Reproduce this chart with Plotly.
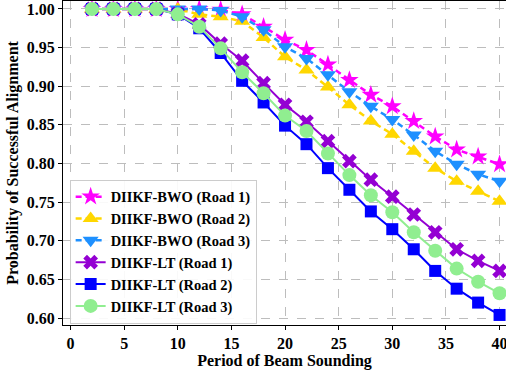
import plotly.graph_objects as go

periods = [2, 4, 6, 8, 10, 12, 14, 16, 18, 20, 22, 24, 26, 28, 30, 32, 34, 36, 38, 40]

bwo_road1 = [1, 1, 1, 1, 1, 1, 0.999, 0.993, 0.977, 0.960, 0.947, 0.928, 0.908, 0.889, 0.874, 0.855, 0.835, 0.818, 0.809, 0.799]
bwo_road2 = [1, 1, 1, 1, 1, 0.993, 0.990, 0.984, 0.963, 0.938, 0.921, 0.899, 0.876, 0.855, 0.838, 0.816, 0.794, 0.777, 0.764, 0.751]
bwo_road3 = [1, 1, 1, 1, 1, 1, 0.998, 0.990, 0.973, 0.951, 0.936, 0.915, 0.893, 0.874, 0.857, 0.837, 0.816, 0.799, 0.786, 0.777]
lt_road1 = [1, 1, 1, 1, 0.994, 0.980, 0.955, 0.933, 0.904, 0.876, 0.854, 0.829, 0.803, 0.779, 0.757, 0.734, 0.711, 0.689, 0.674, 0.661]
lt_road2 = [1, 1, 1, 1, 0.993, 0.975, 0.943, 0.907, 0.879, 0.849, 0.825, 0.794, 0.766, 0.738, 0.715, 0.689, 0.661, 0.638, 0.620, 0.604]
lt_road3 = [1, 1, 1, 1, 0.993, 0.977, 0.949, 0.918, 0.891, 0.862, 0.842, 0.813, 0.785, 0.759, 0.737, 0.711, 0.687, 0.664, 0.647, 0.632]

x_ticks = [0, 5, 10, 15, 20, 25, 30, 35, 40]
y_ticks = [0.60, 0.65, 0.70, 0.75, 0.80, 0.85, 0.90, 0.95, 1.00]

series = [
    ("DIIKF-BWO (Road 1)", bwo_road1, "#FF00FF", "star", "dash", 14),
    ("DIIKF-BWO (Road 2)", bwo_road2, "#FFD700", "triangle-up", "dash", 14),
    ("DIIKF-BWO (Road 3)", bwo_road3, "#1E90FF", "triangle-down", "dash", 14),
    ("DIIKF-LT (Road 1)", lt_road1, "#9400D3", "x", "solid", 13),
    ("DIIKF-LT (Road 2)", lt_road2, "#0000FF", "square", "solid", 12),
    ("DIIKF-LT (Road 3)", lt_road3, "#90EE90", "circle", "solid", 14),
]

fig = go.Figure()
for name, vals, color, sym, dash, size in series:
    fig.add_trace(go.Scatter(
        x=periods, y=vals, name=name, mode="lines+markers",
        line=dict(color=color, width=2.5 if dash == "dash" else 2, dash="6px,4px" if dash == "dash" else "solid"),
        marker=dict(symbol=sym, size=size, color=color, line=dict(width=0)),
        cliponaxis=False,
    ))

font_family = "Liberation Serif, Times New Roman, serif"
axis_common = dict(
    showline=True, linecolor="black", linewidth=1.2, mirror=True,
    ticks="outside", ticklen=4, tickcolor="black",
    showgrid=True, gridcolor="#BDBDBD", griddash="dash", gridwidth=1,
    zeroline=False, automargin=False, ticklabeloverflow="allow",
    tickfont=dict(family=font_family, size=16, color="black", weight="bold"),
)

fig.update_layout(
    width=506, height=373,
    margin=dict(l=63, r=0, t=1, b=48),
    paper_bgcolor="white", plot_bgcolor="white",
    font=dict(family=font_family, color="black"),
    xaxis=dict(range=[-0.7, 40.6], tickvals=x_ticks,
               title=dict(text="<b>Period of Beam Sounding</b>", font=dict(family=font_family, size=16), standoff=2),
               **axis_common),
    yaxis=dict(range=[0.591, 1.0103], tickvals=y_ticks, tickformat=".2f",
               title=dict(text="<b>Probability of Successful Alignment</b>", font=dict(family=font_family, size=16), standoff=4),
               **axis_common),
    legend=dict(
        x=0.015, y=0.004, xanchor="left", yanchor="bottom",
        bgcolor="rgba(255,255,255,0.9)", bordercolor="#CCCCCC", borderwidth=1,
        font=dict(family=font_family, size=14.5, color="black", weight="bold"),
        itemsizing="trace", tracegroupgap=0,
    ),
    showlegend=True,
)

fig.write_html("out.html", config={"displayModeBar": False},
               post_script="document.body.style.margin='0';document.body.style.padding='0';")
